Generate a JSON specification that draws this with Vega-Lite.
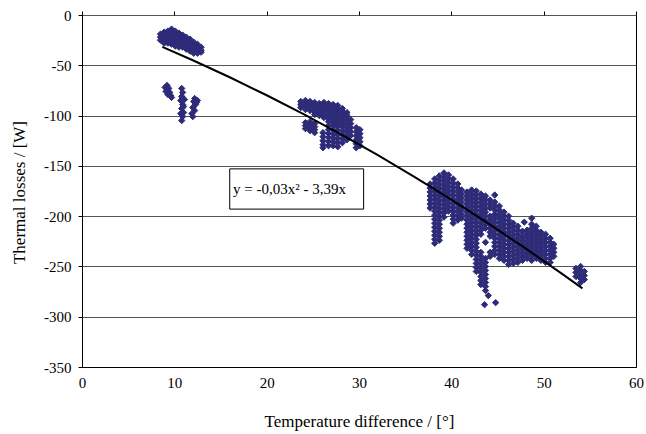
{
  "$schema": "https://vega.github.io/schema/vega-lite/v6.json",
  "width": 554,
  "height": 352,
  "autosize": {"type": "none"},
  "padding": {"left": 82, "top": 15, "right": 10, "bottom": 67},
  "background": "white",
  "config": {
    "view": {"stroke": "black", "strokeWidth": 1},
    "axis": {"labelFont": "Liberation Serif, DejaVu Serif, serif", "titleFont": "Liberation Serif, DejaVu Serif, serif", "labelColor": "black", "titleColor": "black", "titleFontWeight": "normal", "domainColor": "black", "tickColor": "black"}
  },
  "datasets": {
    "pts": [
      {"x":8.5,"y":-19},{"x":8.5,"y":-22},{"x":8.5,"y":-25},
      {"x":8.9,"y":-17},{"x":8.9,"y":-20},{"x":8.9,"y":-23},{"x":8.9,"y":-26},{"x":8.9,"y":-28},
      {"x":9.3,"y":-16},{"x":9.3,"y":-19},{"x":9.3,"y":-22},{"x":9.3,"y":-25},{"x":9.3,"y":-28},
      {"x":9.7,"y":-14},{"x":9.7,"y":-17},{"x":9.7,"y":-20},{"x":9.7,"y":-23},{"x":9.7,"y":-26},{"x":9.7,"y":-29},
      {"x":10.1,"y":-16},{"x":10.1,"y":-19},{"x":10.1,"y":-22},{"x":10.1,"y":-25},{"x":10.1,"y":-28},{"x":10.1,"y":-31},
      {"x":10.5,"y":-18},{"x":10.5,"y":-21},{"x":10.5,"y":-24},{"x":10.5,"y":-27},{"x":10.5,"y":-30},{"x":10.5,"y":-32},
      {"x":10.9,"y":-20},{"x":10.9,"y":-23},{"x":10.9,"y":-26},{"x":10.9,"y":-29},{"x":10.9,"y":-32},
      {"x":11.3,"y":-22},{"x":11.3,"y":-25},{"x":11.3,"y":-28},{"x":11.3,"y":-31},{"x":11.3,"y":-34},
      {"x":11.7,"y":-24},{"x":11.7,"y":-27},{"x":11.7,"y":-30},{"x":11.7,"y":-33},{"x":11.7,"y":-36},
      {"x":12.1,"y":-27},{"x":12.1,"y":-30},{"x":12.1,"y":-33},{"x":12.1,"y":-36},{"x":12.1,"y":-38},
      {"x":12.5,"y":-29},{"x":12.5,"y":-32},{"x":12.5,"y":-35},{"x":12.5,"y":-38},
      {"x":12.9,"y":-32},{"x":12.9,"y":-35},{"x":12.9,"y":-37},
      {"x":9.0,"y":-72},{"x":9.2,"y":-70},{"x":9.4,"y":-73},{"x":9.1,"y":-76},{"x":9.5,"y":-77},{"x":9.6,"y":-80},{"x":9.3,"y":-79},{"x":9.7,"y":-82},
      {"x":10.8,"y":-73},{"x":10.9,"y":-77},{"x":10.8,"y":-81},{"x":10.7,"y":-85},{"x":10.9,"y":-89},{"x":10.8,"y":-93},{"x":11.0,"y":-97},{"x":10.9,"y":-101},{"x":10.8,"y":-105},{"x":11.1,"y":-84},{"x":11.0,"y":-91},{"x":10.7,"y":-98},
      {"x":12.2,"y":-83},{"x":12.1,"y":-86},{"x":12.3,"y":-89},{"x":12.0,"y":-92},{"x":12.2,"y":-95},{"x":11.9,"y":-98},{"x":12.4,"y":-87},{"x":12.0,"y":-101},{"x":12.5,"y":-85},
      {"x":23.7,"y":-86},{"x":23.7,"y":-89},{"x":23.7,"y":-92},
      {"x":24.2,"y":-85},{"x":24.2,"y":-88},{"x":24.2,"y":-91},{"x":24.2,"y":-94},{"x":24.2,"y":-107},{"x":24.2,"y":-110},{"x":24.2,"y":-113},
      {"x":24.7,"y":-86},{"x":24.7,"y":-89},{"x":24.7,"y":-92},{"x":24.7,"y":-95},{"x":24.7,"y":-106},{"x":24.7,"y":-109},{"x":24.7,"y":-112},{"x":24.7,"y":-115},
      {"x":25.2,"y":-87},{"x":25.2,"y":-90},{"x":25.2,"y":-93},{"x":25.2,"y":-96},{"x":25.2,"y":-99},{"x":25.2,"y":-108},{"x":25.2,"y":-111},{"x":25.2,"y":-114},{"x":25.2,"y":-117},
      {"x":25.7,"y":-88},{"x":25.7,"y":-91},{"x":25.7,"y":-94},{"x":25.7,"y":-97},{"x":25.7,"y":-100},
      {"x":26.1,"y":-117},{"x":26.1,"y":-121},{"x":26.1,"y":-125},{"x":26.1,"y":-129},{"x":26.1,"y":-132},
      {"x":26.2,"y":-87},{"x":26.2,"y":-90},{"x":26.2,"y":-93},{"x":26.2,"y":-96},{"x":26.2,"y":-99},{"x":26.2,"y":-102},
      {"x":26.7,"y":-88},{"x":26.7,"y":-91},{"x":26.7,"y":-94},{"x":26.7,"y":-97},{"x":26.7,"y":-100},{"x":26.7,"y":-103},{"x":26.7,"y":-106},{"x":26.7,"y":-110},{"x":26.7,"y":-114},{"x":26.7,"y":-118},{"x":26.7,"y":-122},{"x":26.7,"y":-126},{"x":26.7,"y":-130},
      {"x":27.2,"y":-89},{"x":27.2,"y":-92},{"x":27.2,"y":-95},{"x":27.2,"y":-98},{"x":27.2,"y":-101},{"x":27.2,"y":-104},{"x":27.2,"y":-107},{"x":27.2,"y":-110},{"x":27.2,"y":-114},{"x":27.2,"y":-118},{"x":27.2,"y":-122},{"x":27.2,"y":-126},{"x":27.2,"y":-130},
      {"x":27.7,"y":-90},{"x":27.7,"y":-93},{"x":27.7,"y":-96},{"x":27.7,"y":-99},{"x":27.7,"y":-102},{"x":27.7,"y":-105},{"x":27.7,"y":-108},{"x":27.7,"y":-111},{"x":27.7,"y":-115},{"x":27.7,"y":-119},{"x":27.7,"y":-123},{"x":27.7,"y":-127},{"x":27.7,"y":-131},
      {"x":28.2,"y":-93},{"x":28.2,"y":-96},{"x":28.2,"y":-99},{"x":28.2,"y":-102},{"x":28.2,"y":-105},{"x":28.2,"y":-108},{"x":28.2,"y":-111},{"x":28.2,"y":-115},{"x":28.2,"y":-119},{"x":28.2,"y":-123},{"x":28.2,"y":-127},
      {"x":28.7,"y":-97},{"x":28.7,"y":-100},{"x":28.7,"y":-104},{"x":28.7,"y":-108},{"x":28.7,"y":-112},{"x":28.7,"y":-116},{"x":28.7,"y":-120},{"x":28.7,"y":-124},
      {"x":29.1,"y":-104},{"x":29.1,"y":-108},{"x":29.1,"y":-112},{"x":29.1,"y":-116},{"x":29.1,"y":-120},
      {"x":29.7,"y":-112},{"x":29.7,"y":-116},{"x":29.7,"y":-120},{"x":29.7,"y":-124},{"x":29.7,"y":-128},{"x":29.7,"y":-132},
      {"x":30.1,"y":-114},{"x":30.1,"y":-118},{"x":30.1,"y":-122},{"x":30.1,"y":-126},{"x":30.1,"y":-130},
      {"x":37.7,"y":-168},{"x":37.7,"y":-172},{"x":37.7,"y":-176},{"x":37.7,"y":-180},{"x":37.7,"y":-184},{"x":37.7,"y":-188},{"x":37.7,"y":-192},
      {"x":38.2,"y":-163},{"x":38.2,"y":-167},{"x":38.2,"y":-171},{"x":38.2,"y":-175},{"x":38.2,"y":-179},{"x":38.2,"y":-183},{"x":38.2,"y":-187},{"x":38.2,"y":-191},{"x":38.2,"y":-195},{"x":38.2,"y":-199},{"x":38.2,"y":-203},{"x":38.2,"y":-207},{"x":38.2,"y":-211},{"x":38.2,"y":-215},{"x":38.2,"y":-219},{"x":38.2,"y":-223},{"x":38.2,"y":-227},
      {"x":38.7,"y":-160},{"x":38.7,"y":-164},{"x":38.7,"y":-168},{"x":38.7,"y":-172},{"x":38.7,"y":-176},{"x":38.7,"y":-180},{"x":38.7,"y":-184},{"x":38.7,"y":-188},{"x":38.7,"y":-192},{"x":38.7,"y":-196},{"x":38.7,"y":-200},{"x":38.7,"y":-204},{"x":38.7,"y":-208},{"x":38.7,"y":-212},{"x":38.7,"y":-216},{"x":38.7,"y":-220},{"x":38.7,"y":-224},
      {"x":39.2,"y":-157},{"x":39.2,"y":-161},{"x":39.2,"y":-165},{"x":39.2,"y":-169},{"x":39.2,"y":-173},{"x":39.2,"y":-177},{"x":39.2,"y":-181},{"x":39.2,"y":-185},{"x":39.2,"y":-189},{"x":39.2,"y":-193},{"x":39.2,"y":-197},{"x":39.2,"y":-201},
      {"x":39.7,"y":-159},{"x":39.7,"y":-163},{"x":39.7,"y":-167},{"x":39.7,"y":-171},{"x":39.7,"y":-175},{"x":39.7,"y":-179},{"x":39.7,"y":-183},{"x":39.7,"y":-187},{"x":39.7,"y":-191},{"x":39.7,"y":-195},
      {"x":40.2,"y":-163},{"x":40.2,"y":-167},{"x":40.2,"y":-171},{"x":40.2,"y":-175},{"x":40.2,"y":-179},{"x":40.2,"y":-183},{"x":40.2,"y":-187},{"x":40.2,"y":-191},{"x":40.2,"y":-195},{"x":40.2,"y":-199},{"x":40.2,"y":-203},{"x":40.2,"y":-207},
      {"x":40.7,"y":-168},{"x":40.7,"y":-172},{"x":40.7,"y":-176},{"x":40.7,"y":-180},{"x":40.7,"y":-184},{"x":40.7,"y":-188},{"x":40.7,"y":-192},{"x":40.7,"y":-196},{"x":40.7,"y":-200},{"x":40.7,"y":-204},
      {"x":41.1,"y":-174},{"x":41.1,"y":-178},{"x":41.1,"y":-182},{"x":41.1,"y":-186},{"x":41.1,"y":-190},{"x":41.1,"y":-194},{"x":41.1,"y":-198},{"x":41.1,"y":-202},
      {"x":41.7,"y":-176},{"x":41.7,"y":-180},{"x":41.7,"y":-184},{"x":41.7,"y":-188},{"x":41.7,"y":-192},{"x":41.7,"y":-196},{"x":41.7,"y":-200},{"x":41.7,"y":-204},{"x":41.7,"y":-208},{"x":41.7,"y":-212},{"x":41.7,"y":-216},{"x":41.7,"y":-220},{"x":41.7,"y":-224},{"x":41.7,"y":-228},{"x":41.7,"y":-232},
      {"x":42.2,"y":-174},{"x":42.2,"y":-178},{"x":42.2,"y":-182},{"x":42.2,"y":-186},{"x":42.2,"y":-190},{"x":42.2,"y":-194},{"x":42.2,"y":-198},{"x":42.2,"y":-202},{"x":42.2,"y":-206},{"x":42.2,"y":-210},{"x":42.2,"y":-214},{"x":42.2,"y":-218},{"x":42.2,"y":-222},{"x":42.2,"y":-226},{"x":42.2,"y":-230},{"x":42.2,"y":-234},{"x":42.2,"y":-238},
      {"x":42.7,"y":-175},{"x":42.7,"y":-179},{"x":42.7,"y":-183},{"x":42.7,"y":-187},{"x":42.7,"y":-191},{"x":42.7,"y":-195},{"x":42.7,"y":-199},{"x":42.7,"y":-203},{"x":42.7,"y":-207},{"x":42.7,"y":-211},{"x":42.7,"y":-215},{"x":42.7,"y":-219},{"x":42.7,"y":-223},{"x":42.7,"y":-227},{"x":42.7,"y":-231},{"x":42.7,"y":-235},{"x":42.7,"y":-239},{"x":42.7,"y":-243},{"x":42.7,"y":-247},{"x":42.7,"y":-251},{"x":42.7,"y":-255},
      {"x":43.2,"y":-178},{"x":43.2,"y":-182},{"x":43.2,"y":-186},{"x":43.2,"y":-190},{"x":43.2,"y":-194},{"x":43.2,"y":-198},{"x":43.2,"y":-202},{"x":43.2,"y":-206},{"x":43.2,"y":-210},{"x":43.2,"y":-214},{"x":43.2,"y":-218},{"x":43.2,"y":-236},{"x":43.2,"y":-240},{"x":43.2,"y":-244},{"x":43.2,"y":-248},{"x":43.2,"y":-252},{"x":43.2,"y":-256},{"x":43.2,"y":-260},{"x":43.2,"y":-264},{"x":43.2,"y":-268},
      {"x":43.7,"y":-180},{"x":43.7,"y":-184},{"x":43.7,"y":-188},{"x":43.7,"y":-192},{"x":43.7,"y":-196},{"x":43.7,"y":-200},{"x":43.7,"y":-204},{"x":43.7,"y":-208},{"x":43.7,"y":-212},{"x":43.7,"y":-226},{"x":43.7,"y":-242},{"x":43.7,"y":-246},{"x":43.7,"y":-250},{"x":43.7,"y":-254},{"x":43.7,"y":-258},{"x":43.7,"y":-262},{"x":43.7,"y":-266},{"x":43.7,"y":-270},{"x":43.7,"y":-274},
      {"x":44.0,"y":-279},{"x":43.6,"y":-288},{"x":44.8,"y":-286},
      {"x":44.2,"y":-184},{"x":44.2,"y":-188},{"x":44.2,"y":-192},{"x":44.2,"y":-200},{"x":44.2,"y":-204},{"x":44.2,"y":-208},{"x":44.2,"y":-212},{"x":44.2,"y":-216},{"x":44.2,"y":-220},{"x":44.2,"y":-236},{"x":44.2,"y":-240},
      {"x":44.7,"y":-179},{"x":44.7,"y":-186},{"x":44.7,"y":-190},{"x":44.7,"y":-194},{"x":44.7,"y":-198},{"x":44.7,"y":-202},{"x":44.7,"y":-206},{"x":44.7,"y":-210},{"x":44.7,"y":-214},{"x":44.7,"y":-218},{"x":44.7,"y":-222},{"x":44.7,"y":-226},{"x":44.7,"y":-230},{"x":44.7,"y":-234},{"x":44.7,"y":-238},
      {"x":45.2,"y":-190},{"x":45.2,"y":-194},{"x":45.2,"y":-198},{"x":45.2,"y":-202},{"x":45.2,"y":-206},{"x":45.2,"y":-210},{"x":45.2,"y":-214},{"x":45.2,"y":-218},{"x":45.2,"y":-222},{"x":45.2,"y":-226},{"x":45.2,"y":-230},{"x":45.2,"y":-234},{"x":45.2,"y":-238},{"x":45.2,"y":-242},
      {"x":45.7,"y":-196},{"x":45.7,"y":-200},{"x":45.7,"y":-204},{"x":45.7,"y":-208},{"x":45.7,"y":-212},{"x":45.7,"y":-216},{"x":45.7,"y":-220},{"x":45.7,"y":-224},{"x":45.7,"y":-228},{"x":45.7,"y":-232},{"x":45.7,"y":-236},{"x":45.7,"y":-240},{"x":45.7,"y":-244},
      {"x":46.2,"y":-200},{"x":46.2,"y":-204},{"x":46.2,"y":-208},{"x":46.2,"y":-212},{"x":46.2,"y":-216},{"x":46.2,"y":-220},{"x":46.2,"y":-224},{"x":46.2,"y":-228},{"x":46.2,"y":-232},{"x":46.2,"y":-236},{"x":46.2,"y":-240},{"x":46.2,"y":-244},{"x":46.2,"y":-248},
      {"x":46.7,"y":-207},{"x":46.7,"y":-211},{"x":46.7,"y":-215},{"x":46.7,"y":-219},{"x":46.7,"y":-223},{"x":46.7,"y":-227},{"x":46.7,"y":-231},{"x":46.7,"y":-235},{"x":46.7,"y":-239},{"x":46.7,"y":-243},{"x":46.7,"y":-247},
      {"x":47.2,"y":-210},{"x":47.2,"y":-214},{"x":47.2,"y":-218},{"x":47.2,"y":-222},{"x":47.2,"y":-226},{"x":47.2,"y":-230},{"x":47.2,"y":-234},{"x":47.2,"y":-238},{"x":47.2,"y":-242},{"x":47.2,"y":-246},
      {"x":47.7,"y":-215},{"x":47.7,"y":-220},{"x":47.7,"y":-224},{"x":47.7,"y":-228},{"x":47.7,"y":-232},{"x":47.7,"y":-236},{"x":47.7,"y":-240},{"x":47.7,"y":-244},
      {"x":47.9,"y":-206},
      {"x":48.2,"y":-214},{"x":48.2,"y":-218},{"x":48.2,"y":-222},{"x":48.2,"y":-226},{"x":48.2,"y":-230},{"x":48.2,"y":-234},{"x":48.2,"y":-238},{"x":48.2,"y":-242},
      {"x":48.7,"y":-202},{"x":48.7,"y":-208},{"x":48.7,"y":-212},{"x":48.7,"y":-216},{"x":48.7,"y":-220},{"x":48.7,"y":-224},{"x":48.7,"y":-228},{"x":48.7,"y":-232},{"x":48.7,"y":-236},{"x":48.7,"y":-240},{"x":48.7,"y":-244},
      {"x":49.2,"y":-210},{"x":49.2,"y":-214},{"x":49.2,"y":-218},{"x":49.2,"y":-222},{"x":49.2,"y":-226},{"x":49.2,"y":-230},{"x":49.2,"y":-234},{"x":49.2,"y":-238},{"x":49.2,"y":-242},
      {"x":49.7,"y":-216},{"x":49.7,"y":-220},{"x":49.7,"y":-224},{"x":49.7,"y":-228},{"x":49.7,"y":-232},{"x":49.7,"y":-236},{"x":49.7,"y":-240},{"x":49.7,"y":-244},
      {"x":50.2,"y":-218},{"x":50.2,"y":-222},{"x":50.2,"y":-226},{"x":50.2,"y":-230},{"x":50.2,"y":-234},{"x":50.2,"y":-238},{"x":50.2,"y":-242},{"x":50.2,"y":-246},
      {"x":50.7,"y":-222},{"x":50.7,"y":-226},{"x":50.7,"y":-230},{"x":50.7,"y":-234},{"x":50.7,"y":-238},{"x":50.7,"y":-242},{"x":50.7,"y":-246},
      {"x":51.1,"y":-228},{"x":51.1,"y":-232},{"x":51.1,"y":-236},{"x":51.1,"y":-240},
      {"x":53.5,"y":-252},{"x":53.5,"y":-256},{"x":53.5,"y":-260},
      {"x":54.0,"y":-250},{"x":54.0,"y":-254},{"x":54.0,"y":-258},{"x":54.0,"y":-262},{"x":54.0,"y":-266},
      {"x":54.4,"y":-255},{"x":54.4,"y":-259},{"x":54.4,"y":-263}
    ],
    "trend": [
      {"x":8.7,"y":-31.76},{"x":12,"y":-45.0},{"x":16,"y":-61.92},{"x":20,"y":-79.8},{"x":24,"y":-98.64},{"x":28,"y":-118.44},{"x":32,"y":-139.2},{"x":36,"y":-160.92},{"x":40,"y":-183.6},{"x":44,"y":-207.24},{"x":48,"y":-231.84},{"x":52,"y":-257.4},{"x":54.2,"y":-271.87}
    ],
    "box": [{"x1":16.0,"x2":30.5,"y1":-153,"y2":-193,"label":"y = -0,03x² - 3,39x","tx":16.35,"ty":-173}]
  },
  "resolve": {"axis": {"x": "independent"}},
  "layer": [
    {
      "data": {"name": "pts"},
      "mark": {"type": "point", "shape": "diamond", "filled": true, "size": 40, "color": "#2E2C78", "stroke": "#2E2C78", "strokeWidth": 1, "opacity": 1},
      "encoding": {
        "x": {"field": "x", "type": "quantitative", "scale": {"domain": [0, 60], "nice": false, "zero": false},
          "axis": {"values": [0,10,20,30,40,50,60], "grid": false, "ticks": false, "labelFlush": false, "labelPadding": 8, "labelFontSize": 15,
            "title": "Temperature difference / [°]", "titleFontSize": 17, "titleX": 277, "titleY": 46, "titleBaseline": "top", "domainColor": "black"}},
        "y": {"field": "y", "type": "quantitative", "scale": {"domain": [-350, 0], "nice": false, "zero": false},
          "axis": {"values": [-350,-300,-250,-200,-150,-100,-50,0], "labelExpr": "datum.value == 0 ? '0' : '-' + abs(datum.value)", "grid": true, "gridColor": "#555", "gridWidth": 1, "tickSize": 4, "labelPadding": 7, "labelFontSize": 15,
            "title": "Thermal losses / [W]", "titleFontSize": 17, "titleX": -63, "titleY": 177, "titleAngle": -90, "titleAlign": "center", "titleBaseline": "middle"}}
      }
    },
    {
      "data": {"name": "trend"},
      "mark": {"type": "line", "color": "black", "strokeWidth": 2},
      "encoding": {
        "x": {"field": "x", "type": "quantitative", "axis": {"orient": "top", "labels": false, "domain": false, "grid": false, "ticks": true, "tickSize": 4, "title": null, "values": [0,10,20,30,40,50,60]}},
        "y": {"field": "y", "type": "quantitative"}
      }
    },
    {
      "data": {"name": "box"},
      "mark": {"type": "rect", "fill": "white", "stroke": "black", "strokeWidth": 1},
      "encoding": {
        "x": {"field": "x1", "type": "quantitative", "axis": null},
        "x2": {"field": "x2"},
        "y": {"field": "y1", "type": "quantitative"},
        "y2": {"field": "y2"}
      }
    },
    {
      "data": {"name": "box"},
      "mark": {"type": "text", "font": "Liberation Serif, DejaVu Serif, serif", "fontSize": 15, "align": "left", "baseline": "middle", "color": "black"},
      "encoding": {
        "x": {"field": "tx", "type": "quantitative", "axis": null},
        "y": {"field": "ty", "type": "quantitative"},
        "text": {"field": "label"}
      }
    }
  ]
}
